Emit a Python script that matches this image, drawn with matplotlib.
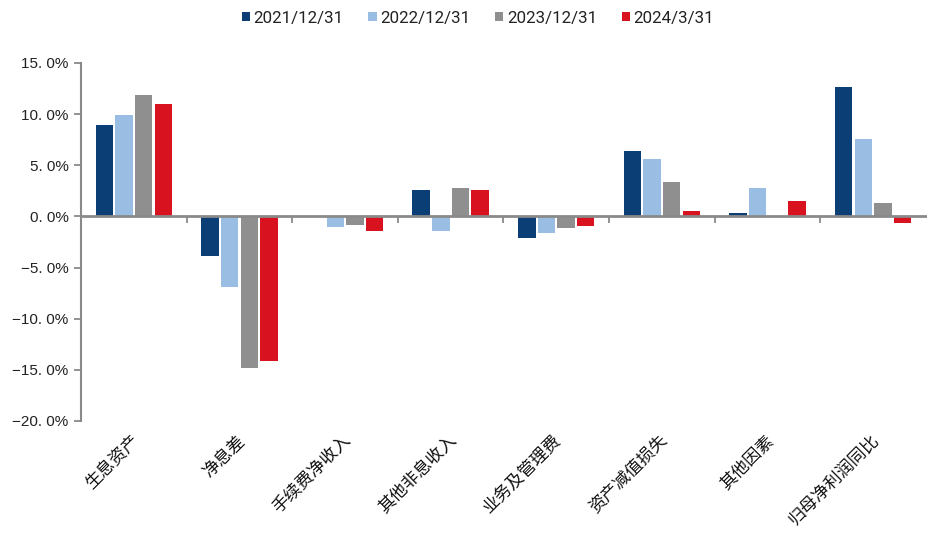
import matplotlib
matplotlib.use("Agg")
import matplotlib.pyplot as plt
import matplotlib.transforms as mtransforms
from matplotlib.patches import Patch
import numpy as np

plt.rcParams['font.family'] = ['Noto Sans CJK SC', 'DejaVu Sans']

categories = ["生息资产", "净息差", "手续费净收入", "其他非息收入",
              "业务及管理费", "资产减值损失", "其他因素", "归母净利润同比"]
series_names = ["2021/12/31", "2022/12/31", "2023/12/31", "2024/3/31"]
v2021 = [8.9, -3.9, 0.0, 2.6, -2.1, 6.4, 0.35, 12.7]
v2022 = [9.9, -6.9, -1.0, -1.4, -1.6, 5.6, 2.75, 7.6]
v2023 = [11.9, -14.8, -0.8, 2.75, -1.1, 3.4, 0.0, 1.35]
v2024 = [10.95, -14.1, -1.4, 2.6, -0.9, 0.5, 1.5, -0.65]
series_values = [v2021, v2022, v2023, v2024]
yticks = [15, 10, 5, 0, -5, -10, -15, -20]

colors = ["#0A3E74", "#9ABDE3", "#8F8F8F", "#D9121F"]
axis_gray = "#8A8A8A"

fig = plt.figure(figsize=(9.28, 5.43), dpi=100)
ax = fig.add_axes([0.0873, 0.2247, 0.9105, 0.6593])

x = np.arange(len(categories))
slot = 0.186
width = 0.165
for i, (vals, col) in enumerate(zip(series_values, colors)):
    ax.bar(x + (i - 1.5) * slot, vals, width=width, color=col, zorder=2)

ax.set_xlim(-0.5, len(categories) - 0.5)
ax.set_ylim(-20, 15)

# y axis
ax.set_yticks(yticks)
ax.set_yticklabels([f"{t:.1f}".replace('.', '. ').replace('-', '\u2212') + "%" for t in yticks],
                   fontfamily=['Liberation Sans', 'DejaVu Sans'], fontsize=11, color="#222222")
ax.tick_params(axis='y', direction='out', length=5, width=1.3, color=axis_gray, pad=4)
for s in ['top', 'right']:
    ax.spines[s].set_visible(False)
ax.spines['left'].set_color(axis_gray)
ax.spines['left'].set_linewidth(1.5)

# x axis as zero line with ticks between categories
ax.spines['bottom'].set_position(('data', 0))
ax.spines['bottom'].set_color(axis_gray)
ax.spines['bottom'].set_linewidth(2.0)
ax.spines['bottom'].set_zorder(3)
ax.set_xticks(np.arange(0.5, len(categories) - 0.5, 1.0))
ax.set_xticklabels([])
ax.tick_params(axis='x', direction='out', length=5, width=1.3, color=axis_gray)

# category labels along the bottom of the plot
trans = mtransforms.blended_transform_factory(ax.transData, ax.transAxes)
for xi, lab in zip(x, categories):
    ax.text(xi - 0.03, -0.03, lab, transform=trans, rotation=45, rotation_mode='anchor',
            ha='right', va='top', fontsize=12.3, color="#111111")

handles = [Patch(facecolor=c, edgecolor='none', label=n) for c, n in zip(colors, series_names)]
fig.legend(handles=handles, loc='center', bbox_to_anchor=(0.515, 1 - 18 / 543), ncol=4,
           frameon=False, handlelength=0.5, handleheight=0.5, handletextpad=0.2,
           columnspacing=1.45, prop={'family': ['Roboto', 'DejaVu Sans'], 'size': 12.2},
           labelcolor="#222222")

fig.savefig("out.png", dpi=100)
